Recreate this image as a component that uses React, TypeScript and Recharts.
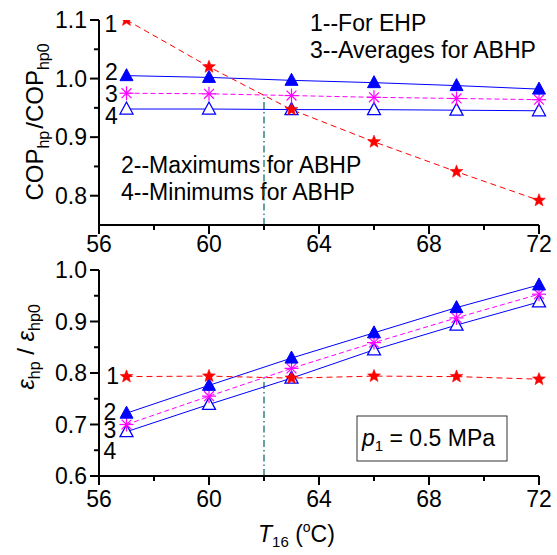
import React from 'react';
import { LineChart, Line, XAxis, YAxis, ReferenceLine, ReferenceDot } from 'recharts';

const temps = [57, 60, 63, 66, 69, 72];
const copEHP = [1.1, 1.02, 0.947, 0.892, 0.841, 0.792];
const copMax = [1.005, 1.002, 0.997, 0.993, 0.988, 0.982];
const copAvg = [0.975, 0.974, 0.971, 0.968, 0.966, 0.964];
const copMin = [0.948, 0.948, 0.947, 0.947, 0.946, 0.945];
const effEHP = [0.793, 0.794, 0.79, 0.794, 0.793, 0.788];
const effMax = [0.722, 0.776, 0.829, 0.878, 0.927, 0.971];
const effAvg = [0.7, 0.755, 0.809, 0.859, 0.907, 0.953];
const effMin = [0.686, 0.739, 0.79, 0.845, 0.893, 0.938];

const xTicks = [56, 58, 60, 62, 64, 66, 68, 70, 72];
const copTicks = [0.8, 0.85, 0.9, 0.95, 1.0, 1.05, 1.1];
const effTicks = [0.6, 0.65, 0.7, 0.75, 0.8, 0.85, 0.9, 0.95, 1.0];
const copCurveLabels = [
  { name: '1', x: 56.43, y: 1.093 },
  { name: '2', x: 56.45, y: 1.011 },
  { name: '3', x: 56.45, y: 0.974 },
  { name: '4', x: 56.45, y: 0.936 },
];
const effCurveLabels = [
  { name: '1', x: 56.5, y: 0.794 },
  { name: '2', x: 56.4, y: 0.725 },
  { name: '3', x: 56.4, y: 0.689 },
  { name: '4', x: 56.4, y: 0.649 },
];
const crossT = 62;
const copCross = 0.972;
const effCross = 0.79;

const FONT = 'Liberation Sans, Arial, sans-serif';
const FS = 23;

const copData = temps.map((t, i) => ({ t, ehp: copEHP[i], max: copMax[i], avg: copAvg[i], min: copMin[i] }));
const effData = temps.map((t, i) => ({ t, ehp: effEHP[i], max: effMax[i], avg: effAvg[i], min: effMin[i] }));

const Marker = ({ kind, cx, cy }: any) => {
  if (cx == null || cy == null) return null;
  if (kind === 'triFill' || kind === 'triOpen') {
    const pts = `${cx},${cy - 7} ${cx - 6.5},${cy + 5} ${cx + 6.5},${cy + 5}`;
    return kind === 'triFill' ? (
      <polygon points={pts} fill="#0000ff" stroke="#0000ff" strokeWidth={1} />
    ) : (
      <polygon points={pts} fill="#ffffff" stroke="#0000ff" strokeWidth={1.3} />
    );
  }
  if (kind === 'star') {
    const pts: string[] = [];
    for (let k = 0; k < 10; k++) {
      const r = k % 2 === 0 ? 6.8 : 2.9;
      const a = -Math.PI / 2 + (k * Math.PI) / 5;
      pts.push(`${cx + r * Math.cos(a)},${cy + r * Math.sin(a)}`);
    }
    return <polygon points={pts.join(' ')} fill="#ff0000" stroke="#ff0000" strokeWidth={0.5} />;
  }
  const r = 7;
  const lines = [0, 45, 90, 135].map((d) => {
    const a = (d * Math.PI) / 180;
    return (
      <line
        key={d}
        x1={cx - r * Math.cos(a)}
        y1={cy - r * Math.sin(a)}
        x2={cx + r * Math.cos(a)}
        y2={cy + r * Math.sin(a)}
        stroke="#ff00ff"
        strokeWidth={1.2}
      />
    );
  });
  return <g>{lines}</g>;
};

const dotFn = (kind: string) => (p: any) => <Marker key={`${kind}-${p.index}`} kind={kind} cx={p.cx} cy={p.cy} />;

const makeXTick = (labelOffset: number) => (p: any) => {
  const { x, y, payload } = p;
  const v = payload.value;
  const major = v % 4 === 0;
  return (
    <g>
      <line x1={x} x2={x} y1={y} y2={y + (major ? 9 : 5)} stroke="#000" strokeWidth={2} />
      {major && (
        <text x={x} y={y + labelOffset} textAnchor="middle" dominantBaseline="central" fontSize={FS} fontFamily={FONT} fill="#000">
          {v}
        </text>
      )}
    </g>
  );
};

const YTick = (p: any) => {
  const { x, y, payload } = p;
  const v = payload.value;
  const major = Math.round(v * 100) % 10 === 0;
  return (
    <g>
      <line x1={x} x2={x - (major ? 9 : 5)} y1={y} y2={y} stroke="#000" strokeWidth={2} />
      {major && (
        <text x={x - 12} y={y} textAnchor="end" dominantBaseline="central" fontSize={FS} fontFamily={FONT} fill="#000">
          {v.toFixed(1)}
        </text>
      )}
    </g>
  );
};

const numLabel = (name: string) => (p: any) => (
  <text x={p.cx} y={p.cy} textAnchor="middle" dominantBaseline="central" fontSize={FS} fontFamily={FONT} fill="#000">
    {name}
  </text>
);

const series = [
  { key: 'min', color: '#0000ff', dash: undefined, kind: 'triOpen' },
  { key: 'avg', color: '#ff00ff', dash: '5 3', kind: 'aster' },
  { key: 'max', color: '#0000ff', dash: undefined, kind: 'triFill' },
  { key: 'ehp', color: '#ff0000', dash: '6 4', kind: 'star' },
];

const renderSeries = () =>
  series.map((s) => (
    <Line
      key={s.key}
      dataKey={s.key}
      type="linear"
      stroke={s.color}
      strokeWidth={1}
      strokeDasharray={s.dash}
      dot={dotFn(s.kind)}
      activeDot={false}
      isAnimationActive={false}
    />
  ));

const W = 557;
const H = 555;
const TEAL = '#16706c';

export default function App() {
  return (
    <div style={{ position: 'absolute', left: 0, top: 0, width: W, height: H, background: '#fff', fontFamily: FONT }}>
      <div style={{ position: 'absolute', left: 0, top: 0 }}>
        <LineChart width={W} height={H} data={copData} margin={{ top: 20, right: 18, left: 0, bottom: 285 }}>
          <XAxis
            dataKey="t"
            type="number"
            domain={[56, 72]}
            ticks={xTicks}
            interval={0}
            height={45}
            tickSize={0}
            tickMargin={0}
            tickLine={false}
            axisLine={{ stroke: '#000', strokeWidth: 2 }}
            tick={makeXTick(19)}
          />
          <YAxis
            type="number"
            domain={[0.75, 1.1]}
            ticks={copTicks}
            interval={0}
            width={99}
            tickSize={0}
            tickMargin={0}
            tickLine={false}
            allowDataOverflow
            axisLine={{ stroke: '#000', strokeWidth: 2 }}
            tick={YTick}
          />
          <ReferenceLine
            segment={[{ x: crossT, y: 0.75 }, { x: crossT, y: copCross }]}
            stroke={TEAL}
            strokeWidth={1.3}
            strokeDasharray="7 3 1.5 3"
          />
          {renderSeries()}
          {copCurveLabels.map((l) => (
            <ReferenceDot key={'c' + l.name} x={l.x} y={l.y} r={0} shape={numLabel(l.name)} />
          ))}
          <text x={-122} y={43} transform="rotate(-90)" textAnchor="middle" fontSize={24} fontFamily={FONT} fill="#000">
            <tspan>COP</tspan>
            <tspan fontSize={16} dy={6}>hp</tspan>
            <tspan dy={-6} dx={2}>/COP</tspan>
            <tspan fontSize={16} dy={6}>hp0</tspan>
          </text>
          <text x={310} y={23} dominantBaseline="central" fontSize={FS} fontFamily={FONT} fill="#000">1--For EHP</text>
          <text x={310} y={50} dominantBaseline="central" fontSize={FS} fontFamily={FONT} fill="#000">3--Averages for ABHP</text>
          <text x={121} y={165} dominantBaseline="central" fontSize={FS} fontFamily={FONT} fill="#000">2--Maximums for ABHP</text>
          <text x={121} y={192} dominantBaseline="central" fontSize={FS} fontFamily={FONT} fill="#000">4--Minimums for ABHP</text>
        </LineChart>
      </div>
      <div style={{ position: 'absolute', left: 0, top: 0 }}>
        <LineChart width={W} height={H} data={effData} margin={{ top: 270, right: 18, left: 0, bottom: 0 }}>
          <XAxis
            dataKey="t"
            type="number"
            domain={[56, 72]}
            ticks={xTicks}
            interval={0}
            height={79}
            tickSize={0}
            tickMargin={0}
            tickLine={false}
            axisLine={{ stroke: '#000', strokeWidth: 2 }}
            tick={makeXTick(23)}
          />
          <YAxis
            type="number"
            domain={[0.6, 1.0]}
            ticks={effTicks}
            interval={0}
            width={99}
            tickSize={0}
            tickMargin={0}
            tickLine={false}
            allowDataOverflow
            axisLine={{ stroke: '#000', strokeWidth: 2 }}
            tick={YTick}
          />
          <ReferenceLine
            segment={[{ x: crossT, y: 0.6 }, { x: crossT, y: effCross }]}
            stroke={TEAL}
            strokeWidth={1.3}
            strokeDasharray="7 3 1.5 3"
          />
          {renderSeries()}
          {effCurveLabels.map((l) => (
            <ReferenceDot key={'e' + l.name} x={l.x} y={l.y} r={0} shape={numLabel(l.name)} />
          ))}
          <text x={-347} y={34} transform="rotate(-90)" textAnchor="middle" fontSize={24} fontFamily={FONT} fill="#000">
            <tspan fontStyle="italic">ε</tspan>
            <tspan fontSize={16} dy={6}>hp</tspan>
            <tspan dy={-6}> / </tspan>
            <tspan fontStyle="italic">ε</tspan>
            <tspan fontSize={16} dy={6}>hp0</tspan>
          </text>
          <text x={258} y={542} fontSize={FS} fontFamily={FONT} fill="#000">
            <tspan fontStyle="italic">T</tspan>
            <tspan fontSize={15} dy={5}>16</tspan>
            <tspan dy={-5}> (</tspan>
            <tspan fontSize={14} dy={-10}>o</tspan>
            <tspan dy={10}>C)</tspan>
          </text>
          <rect x={357} y={416} width={150} height={45} fill="#fff" stroke="#333" strokeWidth={1} />
          <text x={362} y={446} fontSize={FS} fontFamily={FONT} fill="#000">
            <tspan fontStyle="italic">p</tspan>
            <tspan fontSize={15} dy={5}>1</tspan>
            <tspan dy={-5}> = 0.5 MPa</tspan>
          </text>
        </LineChart>
      </div>
    </div>
  );
}
